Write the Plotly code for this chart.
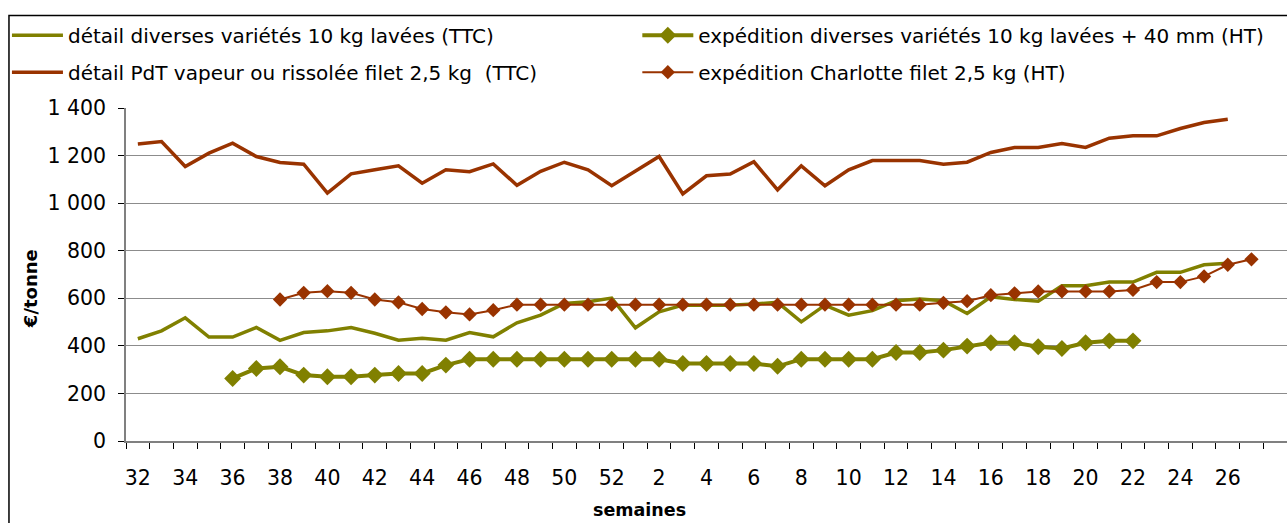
import plotly.graph_objects as go

weeks = list(range(32, 53)) + list(range(1, 28))

detail_diverses = [430, 463, 518, 437, 437, 477, 423, 456, 463, 477, 453, 424, 432, 424, 456, 438,
                   497, 529, 578, 585, 601, 476, 543, 571, 571, 571, 576, 583, 501, 571, 529, 548,
                   590, 597, 590, 536, 606, 595, 588, 653, 653, 668, 668, 709, 709, 741, 747, None]

detail_pdt = [1249, 1259, 1154, 1210, 1252, 1196, 1171, 1164, 1042, 1123, 1140, 1157, 1084, 1140,
              1132, 1165, 1075, 1134, 1172, 1140, 1073, 1133, 1196, 1039, 1115, 1122, 1174, 1056,
              1157, 1073, 1140, 1179, 1179, 1179, 1164, 1172, 1213, 1234, 1234, 1251, 1234, 1273,
              1283, 1283, 1314, 1339, 1353, None]

exp_diverses = [None, None, None, None, 263, 305, 312, 277, 270, 270, 277, 284, 284, 319, 344, 344,
                344, 344, 344, 344, 344, 344, 344, 326, 326, 326, 326, 314, 344, 344, 344, 344,
                372, 372, 382, 399, 413, 413, 396, 389, 413, 421, 421, None, None, None, None, None]

exp_charlotte = [None, None, None, None, None, None, 595, 623, 630, 623, 595, 583, 555, 541, 532, 550,
                 573, 573, 573, 573, 573, 573, 573, 573, 573, 573, 573, 573, 573, 573, 573, 573,
                 573, 573, 581, 588, 613, 621, 629, 629, 629, 629, 635, 668, 668, 692, 741, 764]

names = ["détail diverses variétés 10 kg lavées (TTC)",
         "expédition diverses variétés 10 kg lavées + 40 mm (HT)",
         "détail PdT vapeur ou rissolée filet 2,5 kg  (TTC)",
         "expédition Charlotte filet 2,5 kg (HT)"]

OLIVE = "#808000"
RED = "#993300"
FONT = "DejaVu Sans, Arial, sans-serif"

xpos = list(range(len(weeks)))
tick_idx = [i for i in xpos if i % 2 == 0]
tick_txt = [str(weeks[i]) for i in tick_idx]

fig = go.Figure()
fig.add_trace(go.Scatter(x=xpos, y=detail_diverses, name=names[0], mode="lines",
                         legend="legend", legendgroup="a",
                         line=dict(color=OLIVE, width=3.5)))
fig.add_trace(go.Scatter(x=xpos, y=exp_diverses, name=names[1], mode="lines+markers",
                         legend="legend2", legendgroup="b",
                         line=dict(color=OLIVE, width=4),
                         marker=dict(symbol="diamond", size=13, color=OLIVE)))
fig.add_trace(go.Scatter(x=xpos, y=detail_pdt, name=names[2], mode="lines",
                         legend="legend", legendgroup="c",
                         line=dict(color=RED, width=3.5)))
fig.add_trace(go.Scatter(x=xpos, y=exp_charlotte, name=names[3], mode="lines+markers",
                         legend="legend2", legendgroup="d",
                         line=dict(color=RED, width=2),
                         marker=dict(symbol="diamond", size=11, color=RED)))

leg_common = dict(orientation="v", xref="container", yref="container",
                  xanchor="left", yanchor="top", itemwidth=51, tracegroupgap=8,
                  font=dict(family=FONT, size=20, color="black"),
                  bgcolor="rgba(0,0,0,0)")

fig.update_layout(
    width=1287, height=523,
    margin=dict(l=126, r=0, t=108, b=82, autoexpand=False),
    paper_bgcolor="white", plot_bgcolor="white",
    separators=", ",
    font=dict(family=FONT, size=20, color="black"),
    showlegend=True,
    legend=dict(x=0.0054, y=0.970, **leg_common),
    legend2=dict(x=0.4952, y=0.970, **leg_common),
    xaxis=dict(range=[-0.5, 48.5], tickmode="array", tickvals=tick_idx, ticktext=tick_txt,
               ticks="", showgrid=False, zeroline=False,
               showline=True, linecolor="#808080", linewidth=1.5,
               tickfont=dict(family=FONT, size=20.5), ticklabelstandoff=18,
               minor=dict(tick0=-0.5, dtick=1, ticks="outside", ticklen=6,
                          tickcolor="black", tickwidth=1, showgrid=False)),
    yaxis=dict(range=[0, 1400], tickmode="linear", tick0=0, dtick=200, tickformat=",d",
               ticks="outside", ticklen=6, tickcolor="black",
               showgrid=True, gridcolor="#8c8c8c", gridwidth=1, zeroline=False,
               showline=True, linecolor="#808080", linewidth=1.5,
               tickfont=dict(family=FONT, size=20.5), ticklabelstandoff=8),
    annotations=[
        dict(text="<b>€/tonne</b>", xref="paper", yref="paper", x=-0.0827, y=0.459,
             xanchor="center", yanchor="middle", textangle=-90, showarrow=False,
             font=dict(family=FONT, size=18)),
        dict(text="<b>semaines</b>", xref="paper", yref="paper", x=0.4427, y=-0.2085,
             xanchor="center", yanchor="middle", showarrow=False,
             font=dict(family=FONT, size=17.5)),
    ],
    shapes=[dict(type="rect", xref="paper", yref="paper", x0=-0.1008, y0=-0.5, x1=1.2, y1=1.2777,
                 line=dict(color="black", width=1.5), fillcolor="rgba(0,0,0,0)", layer="below")],
)

fig.write_html("out.html", config={"displayModeBar": False},
               post_script="document.body.style.margin='0';document.body.style.overflow='hidden';")
